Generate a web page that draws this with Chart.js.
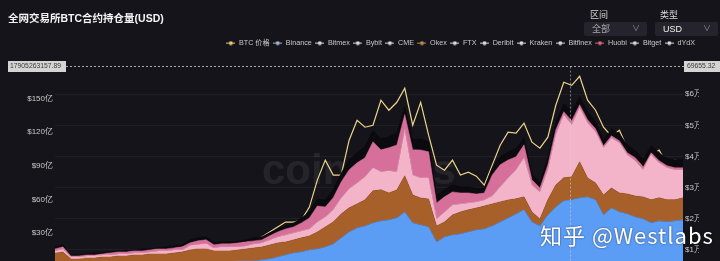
<!DOCTYPE html>
<html>
<head>
<meta charset="utf-8">
<script src="https://cdn.jsdelivr.net/npm/chart.js@4/dist/chart.umd.min.js"></script>
<style>
  html, body { margin: 0; padding: 0; background: #15141a; overflow: hidden; }
  #wrap { position: relative; width: 720px; height: 261px; overflow: hidden;
          font-family: "Liberation Sans", "Noto Sans CJK SC", sans-serif; }
  #lienzo { position: absolute; left: 0; top: 0; width: 720px; height: 267px; }
  .titulo { position: absolute; left: 8px; top: 10px; color: #f4f4f4; font-size: 10.5px; font-weight: bold; }
  .etiqueta { position: absolute; top: 8px; color: #d6d6d6; font-size: 9px; }
  .caja { position: absolute; top: 22px; width: 63px; height: 14px; background: #25242c; border-radius: 2px;
          font-size: 9px; line-height: 14px; }
  .caja span { position: absolute; left: 8px; }
  .caja i { position: absolute; right: 7px; font-style: normal; color: #8a8a92; font-size: 8px; }
  .marca { position: absolute; left: 540px; top: 218px; color: #fff; font-size: 22px; letter-spacing: 1px;
           font-family: "Noto Sans CJK SC", "Liberation Sans", sans-serif; text-shadow: 0 0 2px rgba(0,0,0,0.6); }
</style>
</head>
<body>
<div id="wrap">
  <div id="lienzo"><canvas id="grafico"></canvas></div>
  <div class="titulo">全网交易所BTC合约持仓量(USD)</div>
  <div class="etiqueta" style="left:590px">区间</div>
  <div class="caja" style="left:584px"><span style="color:#a6a6ae">全部</span><i>∨</i></div>
  <div class="etiqueta" style="left:660px">类型</div>
  <div class="caja" style="left:655px"><span style="color:#f0f0f0">USD</span><i>∨</i></div>
  <div class="marca">知乎 @Westlabs</div>
</div>
<script>
// fechas (cada ~10 dias)
const fechas = [
  "2020-02-10","2020-02-20","2020-03-01","2020-03-11","2020-03-21","2020-03-31","2020-04-10","2020-04-20","2020-04-30","2020-05-10",
  "2020-05-20","2020-05-30","2020-06-09","2020-06-19","2020-06-29","2020-07-09","2020-07-19","2020-07-29","2020-08-08","2020-08-18",
  "2020-08-28","2020-09-07","2020-09-17","2020-09-27","2020-10-07","2020-10-17","2020-10-27","2020-11-06","2020-11-16","2020-11-26",
  "2020-12-06","2020-12-16","2020-12-26","2021-01-05","2021-01-15","2021-01-25","2021-02-04","2021-02-14","2021-02-24","2021-03-06",
  "2021-03-16","2021-03-26","2021-04-05","2021-04-15","2021-04-25","2021-05-05","2021-05-15","2021-05-25","2021-06-04","2021-06-14",
  "2021-06-24","2021-07-04","2021-07-14","2021-07-24","2021-08-03","2021-08-13","2021-08-23","2021-09-02","2021-09-12","2021-09-22",
  "2021-10-02","2021-10-12","2021-10-22","2021-11-01","2021-11-11","2021-11-21","2021-12-01","2021-12-11","2021-12-21","2021-12-31",
  "2022-01-10","2022-01-20","2022-01-30","2022-02-09","2022-02-19","2022-03-01","2022-03-11","2022-03-21","2022-03-31","2022-04-10"
];

//持仓量, 亿 USD
const binance = [
  1.8,1.8,0.9,0.9,0.9,1.8,1.8,1.8,1.8,2.7, 2.7,2.7,2.7,2.7,3.6,3.6,3.6,3.6,3.6,4.5,
  4.5,4.5,4.5,5.3,5.3,5.3,6.2,7.1,8.9,10.7, 12.5,13.4,15.1,16.0,17.8,20.5,25.8,31.2,34.7,36.5,
  39.2,41.0,41.9,43.6,49.0,39.2,37.4,35.6,22.3,26.7, 28.5,29.4,31.2,32.9,33.8,36.5,40.1,43.6,47.2,50.8,
  40.1,36.5,46.3,53.4,58.8,59.7,61.4,62.3,59.7,46.3, 52.5,49.0,47.2,44.5,42.7,39.2,41.0,40.1,41.0,41.9
];
const okex = [
  10.7,11.6,6.2,6.2,7.1,6.2,7.1,7.1,8.0,7.1, 8.0,8.0,8.9,8.9,8.0,8.9,9.8,11.6,12.5,11.6,
  9.8,9.8,9.8,9.8,10.7,11.6,11.6,12.5,12.5,11.6, 11.6,12.5,12.5,15.1,17.8,19.6,21.4,21.4,21.4,23.2,
  28.5,27.6,24.0,24.9,32.1,24.9,24.0,24.9,14.2,13.4, 17.8,19.6,19.6,19.6,20.5,19.6,17.8,16.0,13.4,11.6,
  8.9,6.2,13.4,19.6,20.5,20.5,32.1,16.9,15.1,17.8, 17.8,16.9,17.8,18.7,19.6,20.5,20.5,19.6,18.7,19.6
];
const bybit = [
  1.8,2.7,1.8,1.8,1.8,1.8,1.8,1.8,1.8,1.8, 1.8,1.8,1.8,2.7,2.7,2.7,1.8,3.6,3.6,4.5,
  2.7,3.6,3.6,2.7,2.7,3.6,3.6,4.5,5.3,6.2, 6.2,6.2,6.2,8.9,8.9,10.7,14.2,16.9,18.7,20.5,
  20.5,16.0,19.6,16.0,41.0,17.8,17.8,18.7,6.2,8.9, 8.9,7.1,6.2,5.3,5.3,7.1,13.4,19.6,25.8,34.7,
  24.0,24.0,26.7,44.5,56.1,46.3,48.1,49.0,45.4,41.9, 44.5,44.5,34.7,31.2,24.0,40.1,31.2,28.5,26.7,24.9
];
const huobi = [
  1.8,1.8,0.9,0.9,0.9,0.9,0.9,1.8,1.8,1.8, 1.8,1.8,1.8,1.8,1.8,1.8,2.7,2.7,3.6,3.6,
  2.7,2.7,2.7,3.6,3.6,2.7,2.7,3.6,4.5,5.3, 5.3,7.1,9.8,14.2,8.9,10.7,14.2,16.9,17.8,16.9,
  23.2,19.6,20.5,24.0,13.4,22.3,24.9,23.2,14.2,13.4, 11.6,9.8,8.9,7.1,6.2,18.7,19.6,16.0,11.6,11.6,
  4.5,3.6,4.5,4.5,2.7,3.6,2.7,2.7,2.7,1.8, 1.8,1.8,1.8,2.7,2.7,1.8,1.8,1.8,1.8,1.8
];
const ftx = [
  1.8,1.8,0.9,0.9,0.9,1.8,0.9,0.9,0.9,1.8, 0.9,1.8,0.9,0.9,1.8,1.8,1.8,2.7,2.7,2.7,
  1.8,1.8,1.8,1.8,1.8,2.7,2.7,2.7,2.7,2.7, 3.6,4.5,5.3,6.2,6.2,7.1,8.0,8.9,8.9,9.8,
  9.8,9.8,9.8,10.7,7.1,8.9,9.8,8.9,7.1,6.2, 6.2,5.3,5.3,5.3,4.5,6.2,7.1,7.1,7.1,6.2,
  5.3,4.5,6.2,7.1,7.1,8.0,7.1,7.1,6.2,5.3, 6.2,6.2,7.1,6.2,7.1,6.2,7.1,6.2,7.1,7.1
];
// BTC 价格, USD
const btcPrecio = [
  9360,8720,6150,7120,7440,8080,8720,9040,9040,9360, 9680,9360,10000,10320,10640,10960,10960,11280,11600,11920,
  11280,11600,11600,11920,12560,13200,14170,15770,17370,18970, 18970,19620,23780,32440,38850,34040,34040,45250,51670,49420,
  50060,58080,54870,57430,61920,50060,57430,46860,37240,35640, 38850,34040,35000,33720,30830,37240,43650,47820,47500,50700,
  44610,42690,46220,56470,63840,62880,65770,58080,54870,49420, 46540,48460,42690,41090,35960,40450,42050,37240,38850,37880
];

const ticksIzq = [30, 60, 90, 120, 150];
const ticksDer = [10000, 20000, 30000, 40000, 50000, 60000];
const leyenda = ["BTC 价格","Binance","Bitmex","Bybit","CME","Okex","FTX","Deribit","Kraken","Bitfinex","Huobi","Bitget","dYdX"];
const coloresLeyenda = ["#e6c978","#9db6d6","#d9d9d9","#d9d9d9","#d9d9d9","#b3904e","#d9d9d9","#d9d9d9","#d9d9d9","#d9d9d9","#d4687e","#d9d9d9","#d9d9d9"];

// posicion del cursor (crosshair) en la foto
const cursorIzq = 179.0526315789; // 亿
const cursorTextoIzq = "17905263157.89";
const cursorTextoDer = "69655.32";
const cursorIndice = 65;

const fuente = "'Liberation Sans', 'Noto Sans CJK SC', sans-serif";

function marcador(color) {
  const c = document.createElement("canvas");
  c.width = 9; c.height = 5;
  const g = c.getContext("2d");
  g.strokeStyle = color; g.fillStyle = color; g.lineWidth = 1;
  g.beginPath(); g.moveTo(0, 2.5); g.lineTo(9, 2.5); g.stroke();
  g.beginPath(); g.arc(4.5, 2.5, 2, 0, Math.PI * 2); g.fill();
  return c;
}

function area(label, data, color, primera) {
  return {
    label, data, yAxisID: "y", order: 0,
    backgroundColor: color, borderColor: color, borderWidth: 0.5,
    fill: primera ? "origin" : "-1", pointRadius: 0, tension: 0
  };
}

// evita que el ultimo item de la leyenda salte de linea por redondeo
const leyendaFix = {
  id: "leyendaFix",
  afterLayout(chart) {
    if (chart.legend && chart.legend.lineWidths) chart.legend.lineWidths[0] += 0.5;
  }
};

const marcaAgua = {
  id: "marcaAgua",
  beforeDatasetsDraw(chart) {
    const { ctx, chartArea } = chart;
    ctx.save();
    ctx.font = "bold 42px " + fuente;
    ctx.fillStyle = "rgba(255,255,255,0.07)";
    ctx.textAlign = "left";
    ctx.textBaseline = "alphabetic";
    ctx.fillText("coinglass", chartArea.left + 207, 184);
    ctx.restore();
  }
};

const cruz = {
  id: "cruz",
  afterDatasetsDraw(chart) {
    const { ctx, chartArea, scales } = chart;
    const y = Math.round(scales.y.getPixelForValue(cursorIzq)) + 0.5;
    const x = Math.round(scales.x.getPixelForValue(cursorIndice)) - 1.5;
    ctx.save();
    ctx.setLineDash([2, 2]);
    ctx.lineWidth = 1;
    ctx.strokeStyle = "rgba(220,220,220,0.75)";
    ctx.beginPath(); ctx.moveTo(66, y); ctx.lineTo(684, y); ctx.stroke();
    ctx.strokeStyle = "rgba(220,220,220,0.5)";
    ctx.beginPath(); ctx.moveTo(x, y); ctx.lineTo(x, chartArea.bottom); ctx.stroke();
    ctx.setLineDash([]);
    ctx.font = "6.8px " + fuente;
    ctx.textBaseline = "middle";
    ctx.fillStyle = "#d4d4d4";
    ctx.fillRect(8, y - 5.5, 58, 11);
    ctx.fillRect(684, y - 5.5, 36, 11);
    ctx.fillStyle = "#3a3a3a";
    ctx.textAlign = "left";
    ctx.fillText(cursorTextoIzq, 10, y);
    ctx.fillText(cursorTextoDer, 687, y);
    ctx.restore();
  }
};

new Chart(document.getElementById("grafico"), {
  type: "line",
  data: {
    labels: fechas,
    datasets: [
      { label: "BTC 价格", data: btcPrecio, yAxisID: "y1", order: 1, borderColor: "#ecd48c",
        borderWidth: 1.2, pointRadius: 0, fill: false, tension: 0 },
      area("Binance", binance, "#5b9cf5", true),
      area("Okex", okex, "#a8602b"),
      area("Bybit", bybit, "#f3b4c9"),
      area("Huobi", huobi, "#d6709a"),
      area("FTX", ftx, "#0b0a0e")
    ]
  },
  options: {
    responsive: true,
    maintainAspectRatio: false,
    animation: false,
    layout: { padding: { top: 36, right: 21, bottom: 0, left: 0 } },
    plugins: {
      legend: {
        position: "top",
        align: "end",
        labels: {
          color: "#c8c8c8",
          font: { size: 7.2, family: fuente },
          usePointStyle: true,
          pointStyleWidth: 9,
          padding: 3.5,
          generateLabels: () => leyenda.map((nombre, i) => ({
            text: nombre,
            pointStyle: marcador(coloresLeyenda[i]),
            fontColor: "#c8c8c8",
            fillStyle: coloresLeyenda[i],
            strokeStyle: coloresLeyenda[i],
            lineWidth: 0,
            hidden: false
          }))
        }
      },
      tooltip: { enabled: false }
    },
    scales: {
      x: { display: false, offset: false },
      y: {
        position: "left",
        stacked: true,
        min: 0,
        max: 187,
        afterBuildTicks: (s) => { s.ticks = ticksIzq.map(v => ({ value: v })); },
        afterFit: (s) => { s.width = 55; s.paddingTop = 0; s.paddingBottom = 0; },
        grid: { display: false, drawTicks: false },
        border: { display: false },
        ticks: { color: "#c8c8c8", padding: 2, font: { size: 8, family: fuente },
                 callback: v => "$" + v + "亿" }
      },
      y1: {
        position: "right",
        min: 4540,
        max: 72060,
        afterBuildTicks: (s) => { s.ticks = ticksDer.map(v => ({ value: v })); },
        afterFit: (s) => { s.width = 16; s.paddingTop = 0; s.paddingBottom = 0; },
        grid: { color: "rgba(255,255,255,0.05)", drawTicks: false },
        border: { display: false },
        ticks: { color: "#c8c8c8", padding: 2, font: { size: 8, family: fuente },
                 callback: v => "$" + (v / 10000) + "万" }
      }
    }
  },
  plugins: [leyendaFix, marcaAgua, cruz]
});
</script>
</body>
</html>
